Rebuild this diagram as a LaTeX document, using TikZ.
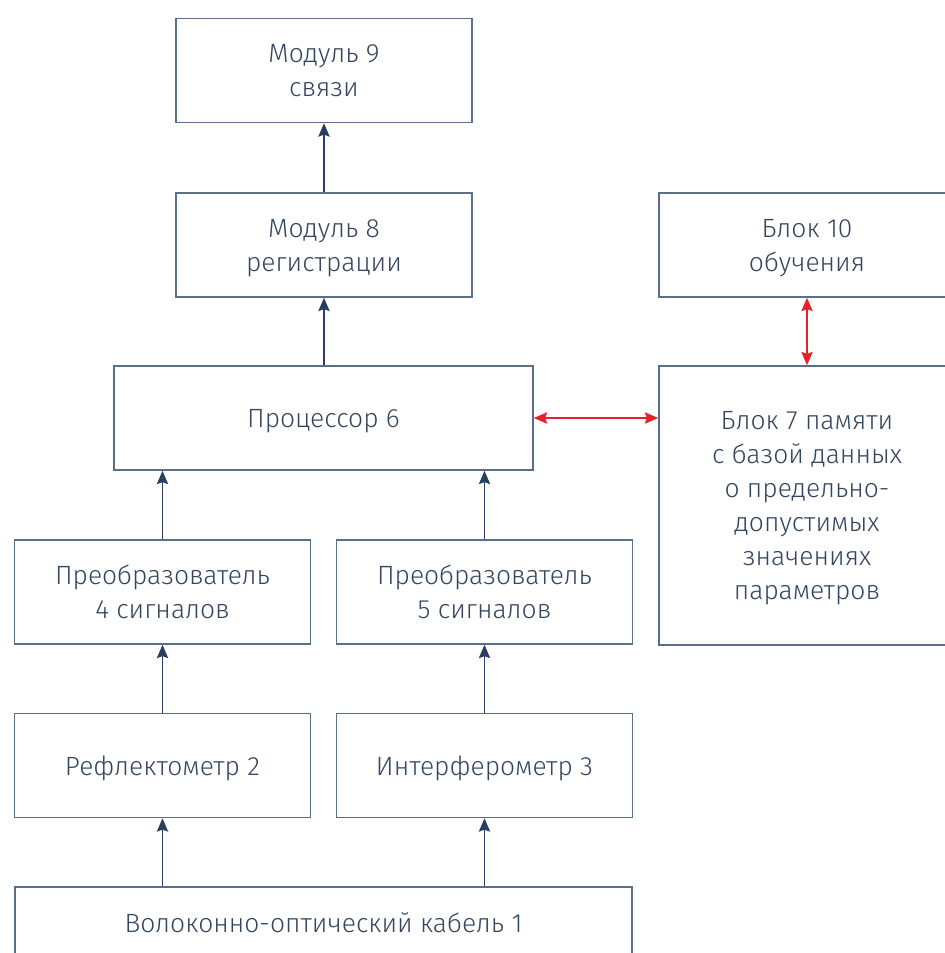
\documentclass[tikz,border=0pt]{standalone}
\usepackage{fontspec}
\setmainfont{Fira Sans}[UprightFont=* Light]
\usetikzlibrary{arrows.meta}
\definecolor{boxc}{HTML}{5B6E88}
\definecolor{txtc}{HTML}{34465F}
\definecolor{arrc}{HTML}{2A3F5F}
\definecolor{redc}{HTML}{E8202A}
\begin{document}
\begin{tikzpicture}[x=0.75pt,y=-0.75pt,
  blk/.style={draw=boxc,line width=1.2pt,fill=none,minimum width=296*0.75pt,minimum height=104*0.75pt,inner sep=0pt,
    text depth=-1.5pt,align=center,text=txtc,font=\fontsize{19.8}{25.5}\selectfont},
  tip/.tip={Stealth[length=10pt,width=8.5pt,inset=1.5pt]},
  up/.style={draw=arrc,line width=1pt,-tip},
  both/.style={draw=redc,line width=1pt,tip-tip}]
\useasboundingbox (0,0) rectangle (945,953);
\begin{scope}
\clip (0,0) rectangle (945,953);
\node[blk] (m9) at (324,70.5) {Модуль 9\\связи};
\node[blk] (m8) at (324,245) {Модуль 8\\регистрации};
\node[blk] (b10) at (807,245) {Блок 10\\обучения};
\node[blk,minimum width=419*0.75pt] (p6) at (323.5,418) {Процессор 6};
\node[blk,minimum height=279*0.75pt] (b7) at (807,505.5) {Блок 7 памяти\\с базой данных\\о предельно-\\допустимых\\значениях\\параметров};
\node[blk] (pr4) at (162.5,592) {Преобразователь\\4 сигналов};
\node[blk] (pr5) at (484.5,592) {Преобразователь\\5 сигналов};
\node[blk] (r2) at (162.5,765.5) {Рефлектометр 2};
\node[blk] (i3) at (484.5,765.5) {Интерферометр 3};
\node[blk,minimum width=617*0.75pt,minimum height=140*0.75pt] (c1) at (323.5,957) {};
\node[text=txtc,font=\fontsize{19.8}{25.5}\selectfont] (c1t) at (323.5,923) {Волоконно-оптический кабель 1};
\end{scope}
\draw[up] (m8.north) -- (m9.south);
\draw[up] (p6.north -| m8.south) -- (m8.south);
\draw[up] (pr4.north) -- (pr4.north |- p6.south);
\draw[up] (pr5.north) -- (pr5.north |- p6.south);
\draw[up] (r2.north) -- (pr4.south);
\draw[up] (i3.north) -- (pr5.south);
\draw[up] (c1.north -| r2.south) -- (r2.south);
\draw[up] (c1.north -| i3.south) -- (i3.south);
\draw[both] (p6.east) -- (p6.east -| b7.west);
\draw[both] (b10.south) -- (b7.north);
\end{tikzpicture}
\end{document}
